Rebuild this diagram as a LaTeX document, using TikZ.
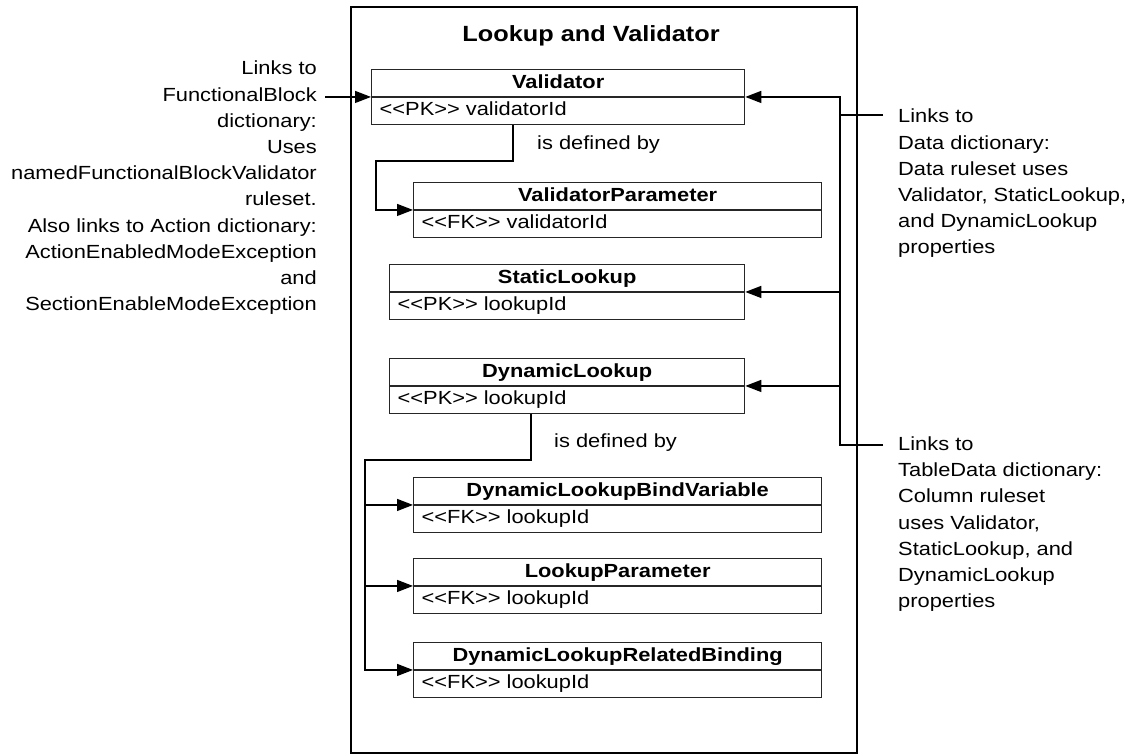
\documentclass[tikz,border=0pt]{standalone}
\usepackage{fontspec}
\setmainfont{Liberation Sans}[FakeStretch=1.15]
\usetikzlibrary{arrows.meta,shapes.multipart}

% keep << and >> from turning into guillemets
\newcommand\keytag[1]{<\kern0pt<#1>\kern0pt>}

\begin{document}
\begin{tikzpicture}[
  x = 1pt, y = -1pt,
  entity/.style = {
    shape = rectangle split,
    rectangle split parts = 2,
    rectangle split part align = {center, left},
    draw = black!85,
    line width = 1.3pt,
    inner xsep = 8pt,
    inner ysep = 0pt,
    anchor = north west,
    font = \fontsize{19}{26}\selectfont,
  },
  link/.style = {
    line width = 1.3pt,
    -{Triangle[length = 16pt, width = 12pt]},
  },
  note/.style = {
    font = \fontsize{19}{26.2}\selectfont,
    inner sep = 0pt,
  }
]
  \useasboundingbox (0, 0) rectangle (1134, 755);

  \node[draw, line width = 1.8pt, minimum width = 506pt, minimum height = 746pt,
    inner sep = 0pt] (frame) at (604, 380) {};
  \node[font = \fontsize{22}{26}\selectfont\bfseries, anchor = base] (title)
    at (591, 41) {Lookup and Validator};

  \node[entity, minimum width = 373pt] (valid) at (371, 69)
    {\strut\textbf{Validator}\nodepart{two}\strut\keytag{PK} validatorId};
  \node[entity, minimum width = 408pt] (vparam) at (413, 182)
    {\strut\textbf{ValidatorParameter}\nodepart{two}\strut\keytag{FK} validatorId};
  \node[entity, minimum width = 355pt] (static) at (389, 264)
    {\strut\textbf{StaticLookup}\nodepart{two}\strut\keytag{PK} lookupId};
  \node[entity, minimum width = 355pt] (dyn) at (389, 358)
    {\strut\textbf{DynamicLookup}\nodepart{two}\strut\keytag{PK} lookupId};
  \node[entity, minimum width = 408pt] (bindvar) at (413, 477)
    {\strut\textbf{DynamicLookupBindVariable}\nodepart{two}\strut\keytag{FK} lookupId};
  \node[entity, minimum width = 408pt] (lparam) at (413, 558)
    {\strut\textbf{LookupParameter}\nodepart{two}\strut\keytag{FK} lookupId};
  \node[entity, minimum width = 408pt] (relbind) at (413, 642)
    {\strut\textbf{DynamicLookupRelatedBinding}\nodepart{two}\strut\keytag{FK} lookupId};

  \node[note, anchor = base west] (defV) at (537, 149.5) {is defined by};
  \node[note, anchor = base west] (defD) at (554, 447) {is defined by};

  % side notes
  \node[note, align = right, anchor = north east] (fbNote) at (317, 61)
    {Links to\\FunctionalBlock\\dictionary:\\Uses\\namedFunctionalBlockValidator\\
     ruleset.\\Also links to Action dictionary:\\ActionEnabledModeException\\and\\
     SectionEnableModeException};
  \node[note, align = left, anchor = north west] (dataNote) at (898, 109)
    {Links to\\Data dictionary:\\Data ruleset uses\\Validator, StaticLookup,\\
     and DynamicLookup\\properties};
  \node[note, align = left, anchor = north west] (tableNote) at (898, 436.5)
    {Links to\\TableData dictionary:\\Column ruleset\\uses Validator,\\
     StaticLookup, and\\DynamicLookup\\properties};

  \coordinate (dataLink) at (883, 115);
  \coordinate (tableLink) at (883, 445);
  \coordinate (bus) at (840, 445);

  % is defined by
  \draw[link] (valid.south west) ++(142, 0) -- ++(0, 36)
    -| ([xshift = -37pt]vparam.text split west) -- (vparam.text split west);
  \draw[link] (dyn.south west) ++(142, 0) -- ++(0, 46)
    -| ([xshift = -48pt]relbind.text split west) -- (relbind.text split west);
  \draw[link] ([xshift = -48pt]bindvar.text split west) -- (bindvar.text split west);
  \draw[link] ([xshift = -48pt]lparam.text split west) -- (lparam.text split west);

  % links from outside
  \draw[link] ([xshift = 8pt]fbNote.east |- valid.text split west)
    -- (valid.text split west);
  \draw[link] (tableLink) -- (bus) -- (bus |- valid.text split east)
    -- (valid.text split east);
  \draw[link] (bus |- static.text split east) -- (static.text split east);
  \draw[link] (bus |- dyn.text split east) -- (dyn.text split east);
  \draw[line width = 1.3pt] (dataLink) -- (bus |- dataLink);
\end{tikzpicture}
\end{document}
